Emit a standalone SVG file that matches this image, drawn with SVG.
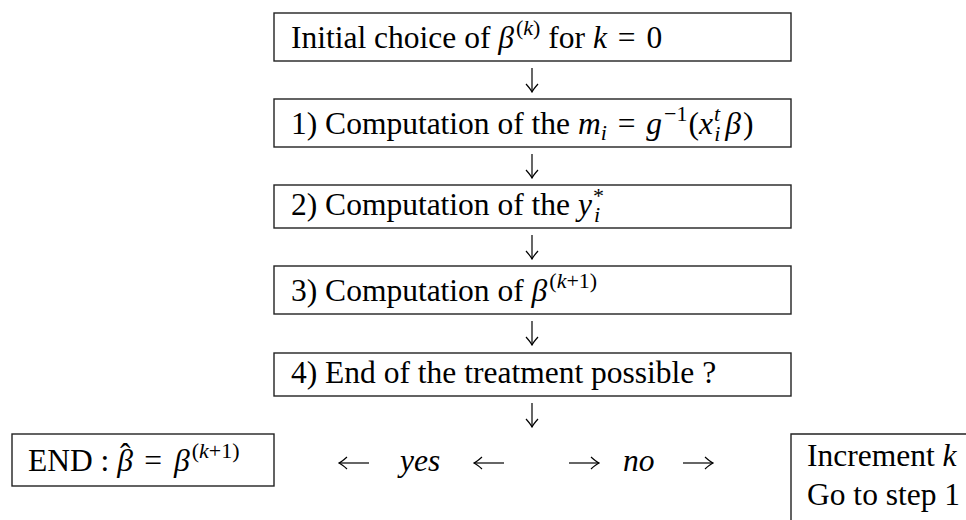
<svg xmlns="http://www.w3.org/2000/svg" width="966" height="520" viewBox="0 0 966 520">
<defs>
<style>
.box{fill:#fff;stroke:#222;stroke-width:1.4}
.t{font-family:"Liberation Serif","Times New Roman",serif;font-size:31.5px;fill:#000}
.m{font-style:italic}
.s{font-size:22px}
.c{fill:none;stroke:#000;stroke-width:1.2}
</style>
<marker id="tip" viewBox="-9 -7 10 14" refX="0" refY="0" markerWidth="10" markerHeight="14" markerUnits="userSpaceOnUse" orient="auto">
<path d="M-8,-6 Q-3,-1.5 0,0 Q-3,1.5 -8,6" fill="none" stroke="#000" stroke-width="1.2"/>
</marker>
</defs>
<rect width="966" height="520" fill="#fff"/>

<g id="n0">
<rect class="box" x="274" y="13" width="517" height="48"/>
<text class="t" x="291" y="48">Initial choice of <tspan class="m">β</tspan><tspan class="s" dx="2" dy="-13">(<tspan class="m">k</tspan>)</tspan><tspan dy="13"> for </tspan><tspan class="m">k</tspan><tspan dx="3"> = </tspan><tspan dx="3">0</tspan></text>
</g>

<g id="n1">
<rect class="box" x="274" y="99" width="517" height="48"/>
<text class="t" x="291" y="134">1) Computation of the <tspan class="m">m</tspan><tspan class="s m" dy="6">i</tspan><tspan dx="3" dy="-6"> = </tspan><tspan class="m" dx="3">g</tspan><tspan class="s" dx="2" dy="-13">−1</tspan><tspan dx="1" dy="13">(</tspan><tspan class="m">x</tspan><tspan class="s m" dx="1" dy="-13">t</tspan><tspan class="s m" dx="-6" dy="20">i</tspan><tspan class="m" dx="5" dy="-7">β</tspan><tspan dx="2">)</tspan></text>
</g>

<g id="n2">
<rect class="box" x="274" y="185" width="517" height="43"/>
<text class="t" x="291" y="215">2) Computation of the <tspan class="m">y</tspan><tspan class="s" dx="1" dy="-12">*</tspan><tspan class="s m" dx="-10" dy="19">i</tspan></text>
</g>

<g id="n3">
<rect class="box" x="274" y="266" width="517" height="48"/>
<text class="t" x="291" y="301">3) Computation of <tspan class="m">β</tspan><tspan class="s" dx="2" dy="-13">(<tspan class="m">k</tspan>+1)</tspan></text>
</g>

<g id="n4">
<rect class="box" x="274" y="353" width="517" height="43"/>
<text class="t" x="291" y="383">4) End of the treatment possible ?</text>
</g>

<g id="end">
<rect class="box" x="12" y="434" width="262" height="52"/>
<text class="t" x="28" y="471">END : <tspan class="m">β</tspan><tspan dx="-13" dy="-6">ˆ</tspan><tspan dx="6" dy="6"> = </tspan><tspan class="m" dx="4">β</tspan><tspan class="s" dx="2" dy="-13">(<tspan class="m">k</tspan>+1)</tspan></text>
</g>

<g id="inc">
<path class="box" d="M966,434 H791 V520"/>
<text class="t" x="807" y="466">Increment <tspan class="m">k</tspan></text>
<text class="t" x="807" y="505">Go to step 1</text>
</g>

<g id="labels">
<text class="t m" x="400" y="471">yes</text>
<text class="t m" x="623" y="471">no</text>
</g>

<g id="connectors">
<line class="c" x1="532" y1="68" x2="532" y2="92" marker-end="url(#tip)"/>
<line class="c" x1="532" y1="154" x2="532" y2="178" marker-end="url(#tip)"/>
<line class="c" x1="532" y1="235" x2="532" y2="259" marker-end="url(#tip)"/>
<line class="c" x1="532" y1="321" x2="532" y2="345" marker-end="url(#tip)"/>
<line class="c" x1="532" y1="403" x2="532" y2="427" marker-end="url(#tip)"/>
<line class="c" x1="369" y1="463" x2="339" y2="463" marker-end="url(#tip)"/>
<line class="c" x1="504" y1="463" x2="474" y2="463" marker-end="url(#tip)"/>
<line class="c" x1="569" y1="463" x2="599" y2="463" marker-end="url(#tip)"/>
<line class="c" x1="683" y1="463" x2="713" y2="463" marker-end="url(#tip)"/>
</g>
</svg>
